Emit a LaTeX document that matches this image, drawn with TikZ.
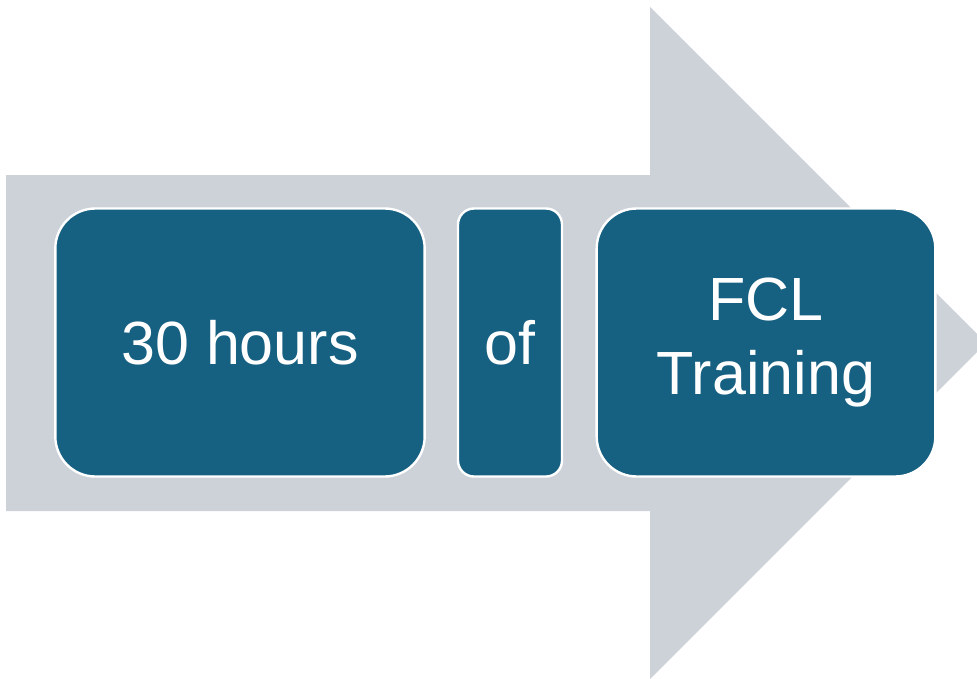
\documentclass[tikz,border=0pt]{standalone}
\usepackage{fontspec}
\setmainfont{Liberation Sans}
\usetikzlibrary{positioning}
\definecolor{boxblue}{RGB}{22,96,130}
\definecolor{arrowgray}{RGB}{205,210,217}
\tikzset{every picture/.style={line width=0.75pt}}

\begin{document}
\begin{tikzpicture}[x=0.75pt,y=0.75pt,yscale=-1,xscale=1,
	stepbox/.style={draw=white, line width=1.8pt, fill=boxblue, text=white, rounded corners=30pt, outer sep=0pt, inner sep=0pt, align=center, minimum height=201pt, font=\fontsize{45.75}{55}\selectfont}]
	\useasboundingbox (0,0) rectangle (977,678);
	\clip (0,0) rectangle (977,678);
	
	%Shape: Right Arrow
	\fill [arrowgray] (6,175) -- (650,175) -- (650,7) -- (986,343) -- (650,679) -- (650,511) -- (6,511) -- cycle ;
	
	% Text Node
	\node [stepbox, minimum width=277pt] (hours) at (240,342.5) {30 hours};
	% Text Node
	\node [stepbox, minimum width=78pt, rounded corners=12pt, right=25pt of hours] (of) {of};
	% Text Node
	\node [stepbox, minimum width=254pt, right=26pt of of] (fcl) {FCL\\Training};
	
\end{tikzpicture}
\end{document}
